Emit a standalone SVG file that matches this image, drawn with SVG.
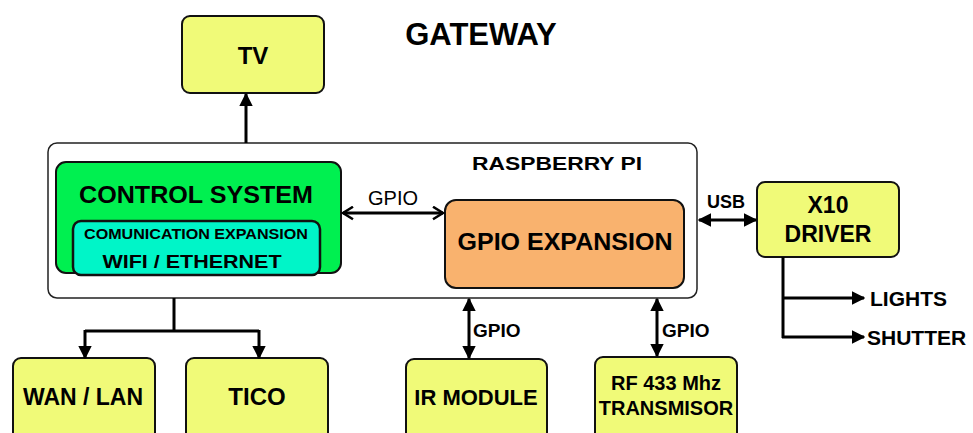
<svg xmlns="http://www.w3.org/2000/svg" width="973" height="433" viewBox="0 0 973 433">
<defs>
<style>
.box{fill:#f0fa78;stroke:#111;stroke-width:2}
.t{font-family:"Liberation Sans",Arial,sans-serif;font-weight:bold;fill:#000;text-anchor:middle}
.ln{stroke:#000;stroke-width:3;fill:none}
</style>
<marker id="ah" viewBox="0 0 10 10" refX="9" refY="5" markerWidth="4.5" markerHeight="4.5" orient="auto-start-reverse"><path d="M0,0 L10,5 L0,10 z" fill="#000"/></marker>
<marker id="av" viewBox="0 0 12 12" refX="10" refY="6" markerWidth="5" markerHeight="5" orient="auto-start-reverse"><path d="M2,1 L10,6 L2,11" fill="none" stroke="#000" stroke-width="2"/></marker>
</defs>
<rect width="973" height="433" fill="#fff"/>
<text class="t" x="481" y="45" font-size="31">GATEWAY</text>
<g id="raspberry">
<rect x="48" y="143" width="649" height="155" rx="9" fill="#fff" stroke="#222" stroke-width="1.5"/>
<text class="t" x="557" y="170" font-size="19" textLength="170" lengthAdjust="spacingAndGlyphs">RASPBERRY PI</text>
</g>
<g id="control">
<rect x="56" y="162" width="285" height="111" rx="10" fill="#00f050" stroke="#111" stroke-width="2"/>
<text class="t" x="196" y="203" font-size="24" textLength="234" lengthAdjust="spacingAndGlyphs">CONTROL SYSTEM</text>
</g>
<g id="comm">
<rect x="73" y="221" width="247" height="54" rx="8" fill="#00f5c8" stroke="#111" stroke-width="2.5"/>
<text class="t" x="196" y="239" font-size="14" textLength="224" lengthAdjust="spacingAndGlyphs">COMUNICATION EXPANSION</text>
<text class="t" x="192" y="268" font-size="19" textLength="179" lengthAdjust="spacingAndGlyphs">WIFI / ETHERNET</text>
</g>
<g id="gpioexp">
<rect x="445" y="200" width="239" height="88" rx="11" fill="#f9b26e" stroke="#111" stroke-width="2"/>
<text class="t" x="565" y="250" font-size="23" textLength="215" lengthAdjust="spacingAndGlyphs">GPIO EXPANSION</text>
</g>
<g id="tv"><rect class="box" x="182" y="16" width="142" height="77" rx="8"/><text class="t" x="253" y="64" font-size="24">TV</text></g>
<g id="x10"><rect class="box" x="757" y="182" width="142" height="75" rx="8"/><text class="t" x="828" y="213" font-size="23">X10</text><text class="t" x="828" y="242" font-size="23">DRIVER</text></g>
<g id="wan"><rect class="box" x="13" y="358" width="142" height="85" rx="8"/><text class="t" x="83" y="405" font-size="23">WAN / LAN</text></g>
<g id="tico"><rect class="box" x="186" y="358" width="142" height="85" rx="8"/><text class="t" x="257" y="405" font-size="24">TICO</text></g>
<g id="ir"><rect class="box" x="406" y="359" width="141" height="84" rx="8"/><text class="t" x="476" y="405" font-size="22">IR MODULE</text></g>
<g id="rf"><rect class="box" x="595" y="357" width="142" height="86" rx="8"/><text class="t" x="666" y="390" font-size="20">RF 433 Mhz</text><text class="t" x="666" y="415" font-size="20">TRANSMISOR</text></g>
<g id="lights"><text class="t" x="870" y="306" font-size="21" style="text-anchor:start">LIGHTS</text></g>
<g id="shutter"><text class="t" x="867" y="345" font-size="21" style="text-anchor:start">SHUTTER</text></g>
<g id="connectors">
<line class="ln" x1="246" y1="143" x2="246" y2="94" marker-end="url(#ah)"/>
<line class="ln" x1="343" y1="213" x2="443" y2="213" marker-start="url(#av)" marker-end="url(#av)"/>
<text x="393" y="205" font-family="Liberation Sans,Arial,sans-serif" font-size="20" text-anchor="middle">GPIO</text>
<line class="ln" x1="699" y1="220" x2="756" y2="220" marker-start="url(#ah)" marker-end="url(#ah)"/>
<text class="t" x="726" y="208" font-size="18">USB</text>
<line class="ln" x1="783" y1="257" x2="783" y2="338"/>
<line class="ln" x1="782" y1="298" x2="864" y2="298" marker-end="url(#ah)"/>
<line class="ln" x1="782" y1="337" x2="864" y2="337" marker-end="url(#ah)"/>
<path class="ln" d="M174,298 V331 M85,331 H259"/>
<line class="ln" x1="85" y1="330" x2="85" y2="358" marker-end="url(#ah)"/>
<line class="ln" x1="259" y1="330" x2="259" y2="358" marker-end="url(#ah)"/>
<line class="ln" x1="469" y1="299" x2="469" y2="358" marker-start="url(#ah)" marker-end="url(#ah)"/>
<text class="t" x="473" y="337" font-size="19" style="text-anchor:start">GPIO</text>
<line class="ln" x1="657" y1="299" x2="657" y2="356" marker-start="url(#ah)" marker-end="url(#ah)"/>
<text class="t" x="662" y="337" font-size="19" style="text-anchor:start">GPIO</text>
</g>
</svg>
